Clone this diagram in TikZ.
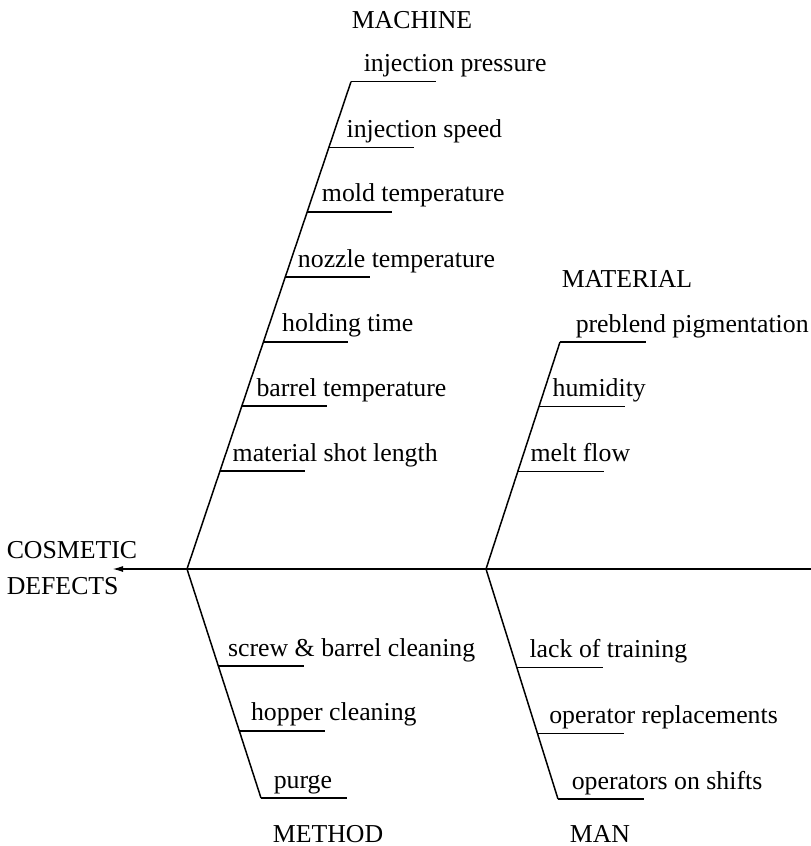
\documentclass[tikz,border=0pt]{standalone}
\usepackage{fontspec}
\setmainfont{Liberation Serif}
\usetikzlibrary{calc}
\usetikzlibrary{arrows.meta}

\begin{document}
\begin{tikzpicture}[x=1pt,y=-1pt,line width=1.5pt,
  cause/.style={font=\fontsize{25.8}{36}\selectfont,inner sep=0pt,anchor=base west},
  group/.style={font=\fontsize{25.8}{36}\selectfont,inner sep=0pt,anchor=base}]
 \useasboundingbox (0,0) rectangle (811,846);
 % spine
 \coordinate (tail) at (811,569);
 \coordinate (tip) at (112,569);
 \coordinate (j1) at (187,569);
 \coordinate (j2) at (486,569);
 \draw[line width=1.7pt,-{Latex[length=11pt,width=6pt]}] (tail) -- (tip);
 \node[cause,align=left] (effect) at (6,594) {COSMETIC\\DEFECTS};
 % bone ends
 \coordinate (mach) at (351,81.7);
 \coordinate (matl) at (560,342);
 \coordinate (meth) at (261,798);
 \coordinate (men) at (558,799);
 \draw (j1) -- (mach);
 \draw (j2) -- (matl);
 \draw (j1) -- (meth);
 \draw (j2) -- (men);
 % group names
 \node[group] (machine) at (412,28) {MACHINE};
 \node[group] (material) at (627,287) {MATERIAL};
 \node[group] (method) at (328,842) {METHOD};
 \node[group] (man) at (600,842) {MAN};
 % machine causes
 \foreach \f/\dx/\lab [count=\i] in {0.201/12/material shot length,
   0.334/14/barrel temperature, 0.466/18/holding time,
   0.599/12/nozzle temperature, 0.733/14/mold temperature,
   0.865/17/injection speed, 1/12/injection pressure}{
   \coordinate (ma\i) at ($(j1)!\f!(mach)$);
   \coordinate (mb\i) at ($(ma\i)+(85,0)$);
   \draw (ma\i) -- (mb\i);
   \node[cause] (mt\i) at ($(ma\i)+(\dx,-10)$) {\lab};
 }
 % material causes
 \foreach \f/\dx/\lab [count=\i] in {0.43/12/melt flow,
   0.715/13/humidity, 1/15/preblend pigmentation}{
   \coordinate (ta\i) at ($(j2)!\f!(matl)$);
   \coordinate (tb\i) at ($(ta\i)+(86,0)$);
   \draw (ta\i) -- (tb\i);
   \node[cause] (tt\i) at ($(ta\i)+(\dx,-10)$) {\lab};
 }
 % method causes
 \foreach \f/\dx/\lab [count=\i] in {0.424/9/screw \& barrel cleaning,
   0.707/11/hopper cleaning, 1/12/purge}{
   \coordinate (da\i) at ($(j1)!\f!(meth)$);
   \coordinate (db\i) at ($(da\i)+(86,0)$);
   \draw (da\i) -- (db\i);
   \node[cause] (dt\i) at ($(da\i)+(\dx,-10)$) {\lab};
 }
 % man causes
 \foreach \f/\dx/\lab [count=\i] in {0.428/12/lack of training,
   0.716/11/operator replacements, 1/13/operators on shifts}{
   \coordinate (na\i) at ($(j2)!\f!(men)$);
   \coordinate (nb\i) at ($(na\i)+(86,0)$);
   \draw (na\i) -- (nb\i);
   \node[cause] (nt\i) at ($(na\i)+(\dx,-10)$) {\lab};
 }
\end{tikzpicture}
\end{document}
